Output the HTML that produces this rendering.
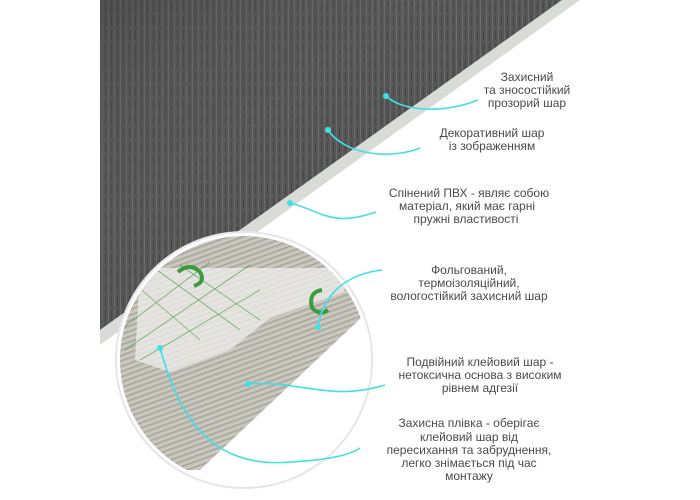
<!DOCTYPE html>
<html><head><meta charset="utf-8"><style>
html,body{margin:0;padding:0;background:#fff;}
svg{display:block}
text{font-family:"Liberation Sans","DejaVu Sans",sans-serif;font-size:12px;fill:#4a4a4a;text-anchor:middle}
</style></head><body>
<svg width="700" height="500" viewBox="0 0 700 500" xmlns="http://www.w3.org/2000/svg">
<defs>
<pattern id="dk" width="6" height="14" patternUnits="userSpaceOnUse">
<rect width="6" height="14" fill="#555"/>
<rect x="0" width="1" height="14" fill="#6a6a6a"/>
<rect x="3" y="2" width="1" height="10" fill="#464646"/>
</pattern>
<pattern id="wd" width="8" height="5" patternUnits="userSpaceOnUse" patternTransform="rotate(-20)">
<rect width="8" height="5" fill="#c2bfb7"/>
<rect y="0" width="8" height="1" fill="#a29f97"/>
<rect y="3" width="8" height="0.8" fill="#d6d3cb"/>
</pattern>
<linearGradient id="sh" x1="0" y1="0" x2="1" y2="1">
<stop offset="0" stop-color="#3d3d3d" stop-opacity="0.35"/>
<stop offset="0.5" stop-color="#777" stop-opacity="0"/>
<stop offset="1" stop-color="#2d2d2d" stop-opacity="0.3"/>
</linearGradient>
<clipPath id="cc"><circle cx="244" cy="360" r="124"/></clipPath>
</defs>
<polygon points="100,0 562,0 100,330" fill="url(#dk)"/>
<polygon points="100,0 562,0 100,330" fill="url(#sh)"/>
<polygon points="562,0 580,0 100,345 100,330" fill="#d8dbd6"/>
<circle cx="244" cy="360" r="128" fill="#fff" stroke="#e6e6e6" stroke-width="2"/>
<g clip-path="url(#cc)">
<polygon points="110,230 380,230 380,300 200,470 110,470" fill="url(#wd)"/>
<polygon points="140,268 340,268 345,292 270,318 230,350 170,372 135,360" fill="#ecebe8" opacity="0.8"/>
<g stroke="#3e9a3e" stroke-width="0.8" fill="none" opacity="0.7">
<path d="M120,300 L170,260 M120,330 L210,262 M125,350 L250,265 M140,360 L260,290 M130,280 L200,340 M150,265 L240,330 M180,265 L260,320"/>
</g>
<path d="M178,272 q12,-10 22,0 q6,10 -6,14" stroke="#3d9a3d" stroke-width="4" fill="none"/>
<path d="M322,290 q-14,2 -10,18 q8,8 16,2" stroke="#3d9a3d" stroke-width="4" fill="none"/>
</g>
<g stroke="#3fe0e8" stroke-width="1.6" fill="none">
<path d="M386,96 C400,110 440,115 478,100"/>
<path d="M328,130 C345,155 390,160 420,148"/>
<path d="M290,203 C320,210 330,228 376,212"/>
<path d="M382,270 C340,275 322,300 318,327"/>
<path d="M248,384 C300,380 330,402 385,385"/>
<path d="M160,348 C175,400 200,470 290,462 C330,460 350,455 360,448"/>
</g>
<g fill="#3fe0e8">
<circle cx="386" cy="96" r="3"/><circle cx="328" cy="130" r="3"/><circle cx="290" cy="203" r="3"/>
<circle cx="318" cy="327" r="3"/><circle cx="248" cy="384" r="3"/><circle cx="160" cy="348" r="3"/>
</g>
<text x="527" y="81">Захисний</text>
<text x="527" y="94">та зносостійкий</text>
<text x="527" y="107">прозорий шар</text>
<text x="492" y="137">Декоративний шар</text>
<text x="492" y="150">із зображенням</text>
<text x="469" y="197">Спінений ПВХ - являє собою</text>
<text x="467" y="210">матеріал, який має гарні</text>
<text x="466" y="223">пружні властивості</text>
<text x="469" y="274">Фольгований,</text>
<text x="469" y="287">термоізоляційний,</text>
<text x="469" y="300">вологостійкий захисний шар</text>
<text x="480" y="366">Подвійний клейовий шар -</text>
<text x="480" y="379">нетоксична основа з високим</text>
<text x="480" y="392">рівнем адгезії</text>
<text x="469" y="427">Захисна плівка - оберігає</text>
<text x="469" y="441">клейовий шар від</text>
<text x="469" y="454">пересихання та забруднення,</text>
<text x="469" y="467">легко знімається під час</text>
<text x="469" y="480">монтажу</text>
</svg>
</body></html>
